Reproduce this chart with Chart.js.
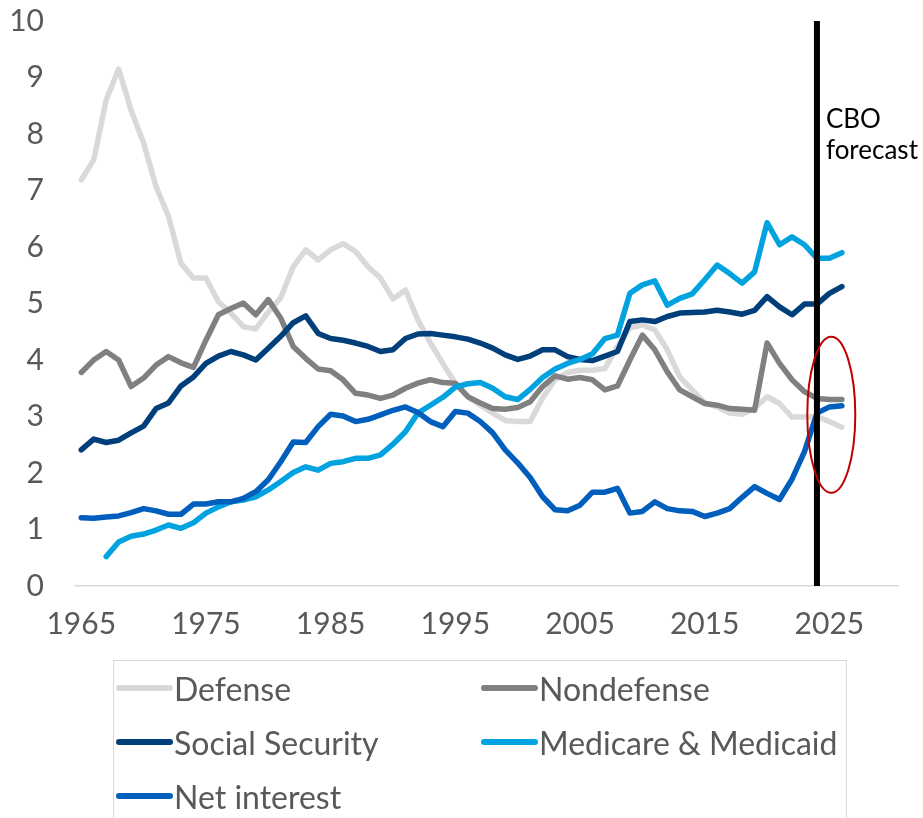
<!DOCTYPE html>
<html>
<head>
<meta charset="utf-8">
<script src="https://cdn.jsdelivr.net/npm/chart.js"></script>
<style>
    body { margin: 0; background: #fff; }
    #wrap { position: relative; width: 923px; height: 818px; overflow: hidden; }
    #legend {
        position: absolute; left: 113px; top: 660px; width: 734px; height: 170px;
        border: 1px solid #d9d9d9; box-sizing: border-box;
        display: grid; grid-template-columns: 365px 365px; grid-auto-rows: 54px;
        font-family: Lato, sans-serif; font-size: 32px; color: #595959;
    }
    #legend .item { display: flex; align-items: center; padding-left: 2px; white-space: nowrap; }
    #legend .swatch { display: inline-block; width: 57px; height: 6px; border-radius: 3px; margin-right: 1px; }
</style>
</head>
<body>
<div id="wrap">
    <canvas id="chartId" width="923" height="818"></canvas>
    <div id="legend"></div>
</div>
<script>
// spending as % of GDP, fiscal years
var years = [1965, 1966, 1967, 1968, 1969, 1970, 1971, 1972, 1973, 1974,
    1975, 1976, 1977, 1978, 1979, 1980, 1981, 1982, 1983, 1984,
    1985, 1986, 1987, 1988, 1989, 1990, 1991, 1992, 1993, 1994,
    1995, 1996, 1997, 1998, 1999, 2000, 2001, 2002, 2003, 2004,
    2005, 2006, 2007, 2008, 2009, 2010, 2011, 2012, 2013, 2014,
    2015, 2016, 2017, 2018, 2019, 2020, 2021, 2022, 2023, 2024,
    2025, 2026];
var tickYears = [1965, 1975, 1985, 1995, 2005, 2015, 2025];
var forecastYear = 2024;

var defense = [7.19, 7.54, 8.60, 9.15, 8.42, 7.84, 7.07, 6.54, 5.71, 5.45,
    5.45, 5.03, 4.83, 4.59, 4.55, 4.85, 5.10, 5.65, 5.95, 5.77,
    5.95, 6.06, 5.92, 5.65, 5.45, 5.08, 5.24, 4.71, 4.30, 3.94,
    3.59, 3.35, 3.20, 3.06, 2.93, 2.91, 2.91, 3.33, 3.65, 3.78,
    3.82, 3.82, 3.85, 4.24, 4.57, 4.62, 4.53, 4.18, 3.70, 3.47,
    3.24, 3.17, 3.06, 3.04, 3.15, 3.35, 3.23, 2.99, 2.99, 3.00,
    2.91, 2.81];
var nondefense = [3.78, 4.00, 4.15, 4.00, 3.53, 3.68, 3.91, 4.06, 3.95, 3.87,
    4.35, 4.80, 4.91, 5.01, 4.80, 5.07, 4.74, 4.24, 4.03, 3.84,
    3.81, 3.65, 3.41, 3.38, 3.32, 3.38, 3.50, 3.59, 3.65, 3.60,
    3.59, 3.35, 3.24, 3.14, 3.13, 3.16, 3.26, 3.53, 3.72, 3.66,
    3.69, 3.65, 3.47, 3.54, 4.00, 4.44, 4.18, 3.79, 3.47, 3.35,
    3.23, 3.20, 3.14, 3.13, 3.11, 4.30, 3.94, 3.65, 3.44, 3.32,
    3.30, 3.30];
var socialSecurity = [2.41, 2.60, 2.54, 2.58, 2.71, 2.83, 3.14, 3.24, 3.54, 3.70,
    3.94, 4.07, 4.15, 4.09, 4.00, 4.21, 4.42, 4.66, 4.78, 4.47,
    4.38, 4.35, 4.30, 4.24, 4.15, 4.18, 4.38, 4.46, 4.47, 4.44,
    4.41, 4.37, 4.30, 4.21, 4.09, 4.01, 4.07, 4.18, 4.18, 4.06,
    4.01, 3.99, 4.07, 4.15, 4.68, 4.71, 4.68, 4.77, 4.83, 4.84,
    4.85, 4.88, 4.85, 4.81, 4.88, 5.12, 4.94, 4.80, 4.99, 4.99,
    5.18, 5.30];
var medicare = [null, null, 0.52, 0.78, 0.88, 0.92, 0.99, 1.08, 1.02, 1.12,
    1.29, 1.40, 1.49, 1.52, 1.58, 1.70, 1.85, 2.01, 2.11, 2.05,
    2.17, 2.20, 2.26, 2.26, 2.32, 2.51, 2.73, 3.06, 3.20, 3.34,
    3.52, 3.58, 3.60, 3.50, 3.35, 3.30, 3.48, 3.69, 3.84, 3.94,
    4.01, 4.11, 4.38, 4.44, 5.18, 5.33, 5.40, 4.97, 5.09, 5.17,
    5.42, 5.68, 5.53, 5.36, 5.56, 6.43, 6.04, 6.18, 6.04, 5.80,
    5.80, 5.90];
var netInterest = [1.21, 1.20, 1.22, 1.24, 1.30, 1.37, 1.33, 1.27, 1.27, 1.45,
    1.45, 1.49, 1.49, 1.55, 1.67, 1.88, 2.20, 2.55, 2.54, 2.82,
    3.04, 3.01, 2.91, 2.95, 3.03, 3.11, 3.17, 3.07, 2.91, 2.82,
    3.09, 3.06, 2.91, 2.71, 2.41, 2.18, 1.92, 1.58, 1.35, 1.33,
    1.43, 1.66, 1.66, 1.73, 1.29, 1.32, 1.49, 1.37, 1.33, 1.32,
    1.23, 1.29, 1.37, 1.57, 1.76, 1.64, 1.53, 1.89, 2.38, 3.06,
    3.17, 3.19];

function pts(vals) {
    return years.map(function (yr, i) { return { x: yr, y: vals[i] }; });
}

function series(label, vals, color, order) {
    return {
        label: label,
        data: pts(vals),
        borderColor: color,
        backgroundColor: color,
        borderWidth: 5.5,
        pointRadius: 0,
        tension: 0,
        borderJoinStyle: 'round',
        borderCapStyle: 'round',
        order: order // later series sit on top, like the original
    };
}

// black forecast line, red ring and the note
var forecastPlugin = {
    id: 'forecast',
    afterDatasetsDraw: function (chart) {
        var ctx = chart.ctx, xs = chart.scales.x, ys = chart.scales.y;
        var x = xs.getPixelForValue(forecastYear);
        ctx.save();
        ctx.strokeStyle = '#000';
        ctx.lineWidth = 6;
        ctx.beginPath();
        ctx.moveTo(x, ys.getPixelForValue(10));
        ctx.lineTo(x, ys.getPixelForValue(0));
        ctx.stroke();

        ctx.strokeStyle = '#c00000';
        ctx.lineWidth = 2;
        ctx.beginPath();
        ctx.ellipse(xs.getPixelForValue(2025.15), ys.getPixelForValue(3.03), 24, 78, 0, 0, Math.PI * 2);
        ctx.stroke();

        ctx.fillStyle = '#000';
        ctx.font = '26px Lato';
        ctx.textBaseline = 'middle';
        ctx.fillText('CBO', x + 9, ys.getPixelForValue(8.25));
        ctx.fillText('forecast', x + 9, ys.getPixelForValue(7.7));
        ctx.restore();
    }
};

Chart.defaults.font.family = 'Lato';
Chart.defaults.color = '#595959';

var chrt = document.getElementById("chartId").getContext("2d");
var chartId = new Chart(chrt, {
    type: 'line',
    data: {
        datasets: [
            series("Defense", defense, '#d9d9d9', 4),
            series("Nondefense", nondefense, '#808080', 3),
            series("Social Security", socialSecurity, '#003f7a', 2),
            series("Medicare & Medicaid", medicare, '#00a3df', 1),
            series("Net interest", netInterest, '#005fbd', 0)
        ]
    },
    options: {
        responsive: false,
        animation: false,
        devicePixelRatio: 1,
        layout: { padding: { top: 21, right: 25, bottom: 0, left: 0 } },
        plugins: {
            legend: { display: false },
            tooltip: { enabled: false }
        },
        scales: {
            x: {
                type: 'linear',
                min: 1964.5,
                max: 2030.5,
                afterBuildTicks: function (axis) {
                    axis.ticks = tickYears.map(function (v) { return { value: v }; });
                },
                afterFit: function (axis) { axis.height = 232; },
                grid: { display: false, drawTicks: false },
                border: { display: true, color: '#d9d9d9', width: 1.5 },
                ticks: {
                    padding: 20,
                    maxRotation: 0,
                    autoSkip: false,
                    font: { size: 30 },
                    callback: function (v) { return String(v); }
                }
            },
            y: {
                min: 0,
                max: 10,
                afterFit: function (axis) {
                    axis.width = 75;
                    // tick padding should only push labels sideways
                    axis.paddingTop = 0;
                    axis.paddingBottom = 0;
                },
                grid: { display: false, drawTicks: false },
                border: { display: false },
                ticks: { stepSize: 1, padding: 31, font: { size: 30 } }
            }
        }
    },
    plugins: [forecastPlugin]
});

// legend in two columns, built from the datasets
var legend = document.getElementById("legend");
chartId.data.datasets.forEach(function (ds) {
    var item = document.createElement("div");
    item.className = "item";
    var sw = document.createElement("span");
    sw.className = "swatch";
    sw.style.background = ds.borderColor;
    item.appendChild(sw);
    item.appendChild(document.createTextNode(ds.label));
    legend.appendChild(item);
});
</script>
</body>
</html>
